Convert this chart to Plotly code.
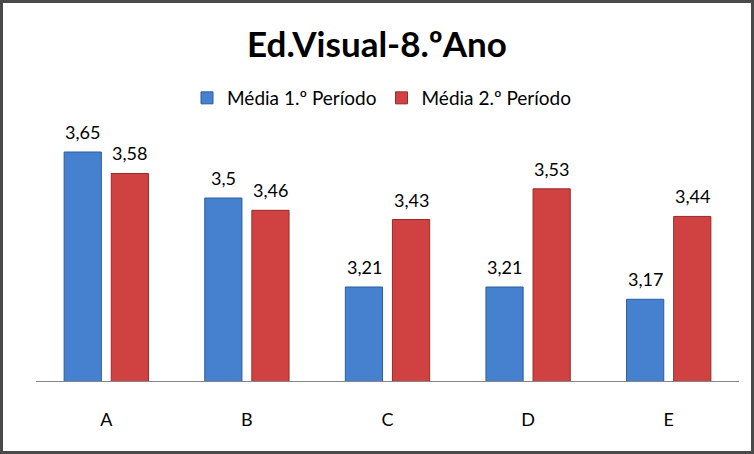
import plotly.graph_objects as go

categories = ["A", "B", "C", "D", "E"]
series1_name = "Média 1.º Período"
series2_name = "Média 2.º Período"
series1 = [3.65, 3.5, 3.21, 3.21, 3.17]
series2 = [3.58, 3.46, 3.43, 3.53, 3.44]

W, H = 754, 454
ml, mr, mt, mb = 36, 15, 80, 73
pw, ph = W - ml - mr, H - mt - mb
ppu = 306.8
ymin = 2.9036
ymax = ymin + ph / ppu

font = "Lato, 'Open Sans', sans-serif"

fig = go.Figure()
fig.add_trace(go.Bar(
    x=categories, y=series1, name=series1_name,
    marker=dict(color="#4581cf", line=dict(color="#2c5d9c", width=1)),
))
fig.add_trace(go.Bar(
    x=categories, y=series2, name=series2_name,
    marker=dict(color="#d04241", line=dict(color="#952b2a", width=1)),
))

annotations = []
for vals, sh in ((series1, -23.5), (series2, 23.5)):
    for c, v in zip(categories, vals):
        annotations.append(dict(
            x=c, y=v, xref="x", yref="y", text=str(v).replace(".", ","),
            showarrow=False, yanchor="bottom", yshift=7, xshift=sh,
            font=dict(family=font, size=18, color="#000000"),
        ))

fig.update_layout(
    width=W, height=H,
    margin=dict(l=ml, r=mr, t=mt, b=mb),
    paper_bgcolor="white", plot_bgcolor="white",
    barmode="group", bargap=0.33, bargroupgap=0.21,
    title=dict(text="<b>Ed.Visual-8.ºAno</b>", x=0.5, xanchor="center",
               y=1 - 45 / H, yanchor="middle",
               font=dict(family=font, size=35, color="#000000")),
    legend=dict(orientation="h", x=(381.5 - ml) / pw, xanchor="center",
                y=(H - mb - 98) / ph, yanchor="middle",
                font=dict(family=font, size=19, color="#000000"),
                itemwidth=30, traceorder="normal", bgcolor="rgba(0,0,0,0)"),
    xaxis=dict(showline=True, linecolor="#868686", linewidth=1, ticks="",
               tickfont=dict(family=font, size=18, color="#000000"),
               ticklabelstandoff=22, showgrid=False),
    yaxis=dict(range=[ymin, ymax], visible=False, showgrid=False),
    annotations=annotations,
    showlegend=True,
)

fig.add_shape(type="rect", xref="paper", yref="paper",
              x0=-(ml - 1.5) / pw, x1=1 + (mr - 1.5) / pw,
              y0=-(mb - 1.5) / ph, y1=1 + (mt - 1.5) / ph,
              line=dict(color="#4a4a4a", width=3), layer="above")

fig.write_html("out.html", config={"displayModeBar": False},
               post_script="document.body.style.margin='0';document.body.style.overflow='hidden';")
